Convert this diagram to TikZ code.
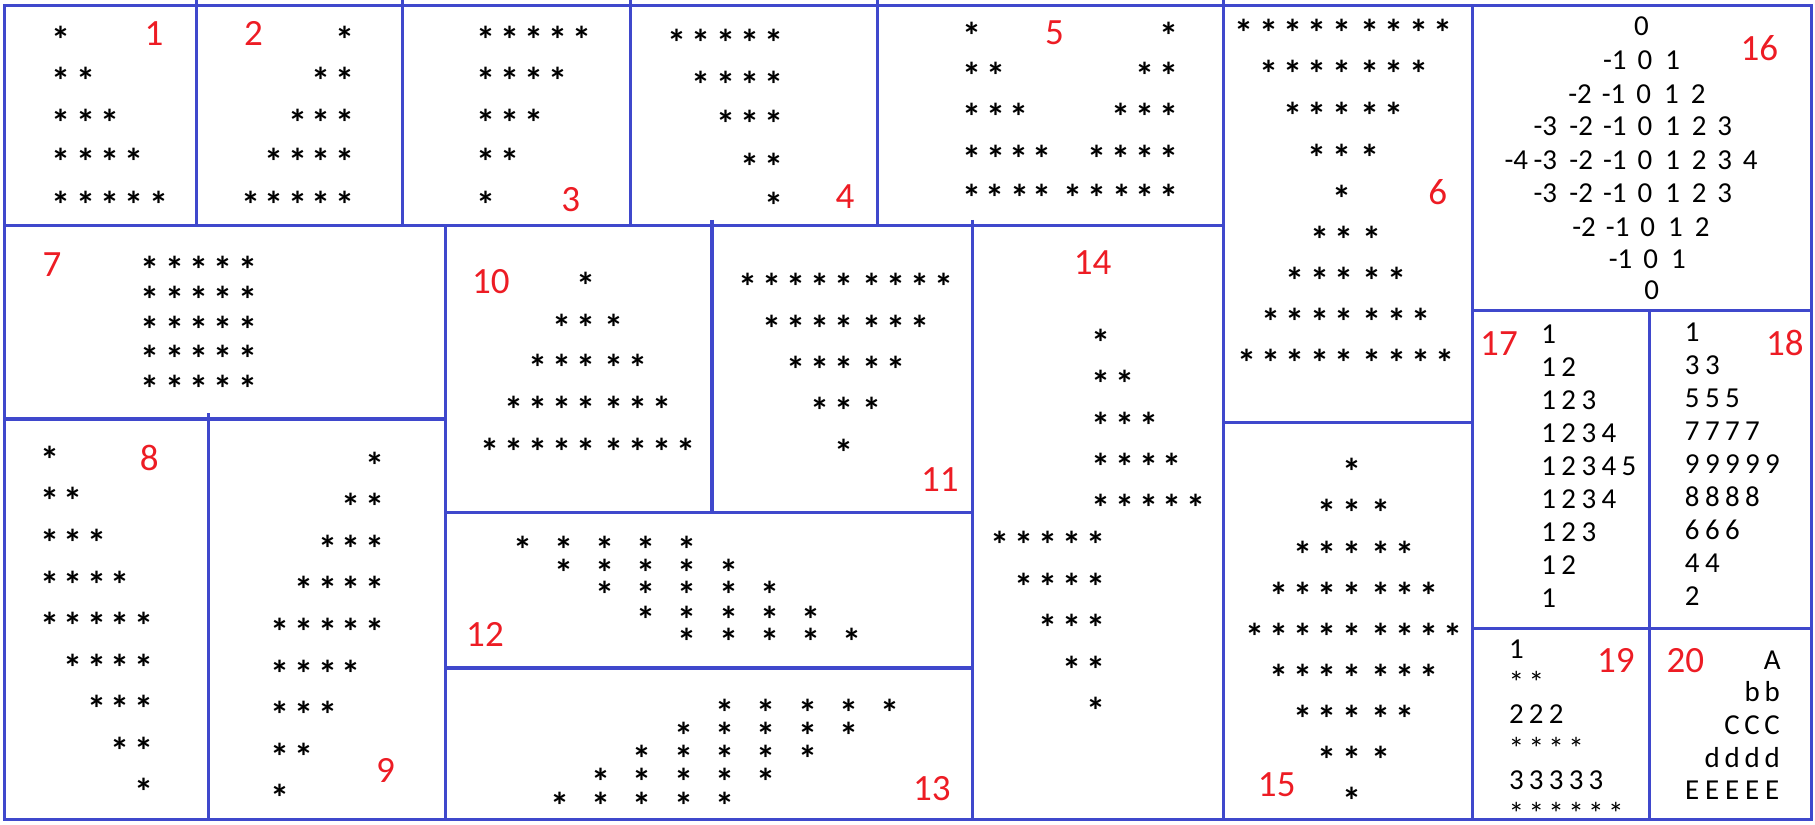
\documentclass[tikz,border=0pt]{standalone}
\usepackage{fontspec}
\setmainfont{Carlito}
\definecolor{gridblue}{RGB}{63,72,204}
\definecolor{tagred}{RGB}{237,28,36}

\begin{document}
\begin{tikzpicture}[x=1pt,y=-1pt,
        frame/.style={gridblue,line width=2.8pt},
        star/.style={font=\fontsize{33}{33}\selectfont\bfseries,inner sep=0pt,anchor=base,yshift=-17pt},
        smallstar/.style={font=\fontsize{27}{27}\selectfont,inner sep=0pt,anchor=base,yshift=-14pt},
        num/.style={font=\fontsize{25}{25}\selectfont,inner sep=0pt,anchor=base,yshift=-8pt},
        tag/.style={font=\fontsize{32}{32}\selectfont,text=tagred,inner sep=0pt,anchor=base,yshift=-10.3pt}] %Patrones de asteriscos
        \useasboundingbox (0,0) rectangle (1568,712);

        \coordinate (TL) at (4,5);
        \coordinate (BR) at (1565,708);

        \coordinate (P) at (4,195);
        \coordinate (Q) at (1057,195);
        \coordinate (R) at (4,362);
        \coordinate (S) at (385,362);
        \coordinate (T) at (385,443);
        \coordinate (U) at (840,443);
        \coordinate (V) at (385,577);
        \coordinate (W) at (840,577);

        \draw[frame] (TL) rectangle (BR);
        \draw[frame] (P) -- (Q);
        \draw[frame] (R) -- (S);
        \draw[frame] (T) -- (U);
        \draw[frame] (V) -- (W);
        \draw[frame] (1057,365) -- (1272,365);
        \draw[frame] (1272,268) -- (1565,268);
        \draw[frame] (1272,543) -- (1565,543);

        \draw[frame] (170,0) -- (170,195);
        \draw[frame] (348,0) -- (348,195);
        \draw[frame] (545,0) -- (545,195);
        \draw[frame] (758,0) -- (758,195);
        \draw[frame] (1057,0) -- (1057,708);
        \draw[frame] (1272,5) -- (1272,708);
        \draw[frame] (1425,268) -- (1425,708);
        \draw[frame] (180,357) -- (180,708);
        \draw[frame] (385,195) -- (385,708);
        \draw[frame] (615,190) -- (615,443);
        \draw[frame] (840,190) -- (840,708);

        % 1 a 4
        \foreach \y [count=\r] in {29,65,101,135,172} {
            \foreach \c in {1,...,\r} {
                \node[star] (s1-\r-\c) at ({53+21*(\c-1)},\y) {*};
                \node[star] (s2-\r-\c) at ({298-20.3*(\c-1)},\y) {*};
            }
        }
        \foreach \y [count=\r] in {29,65,101,135,172} {
            \foreach \c in {\r,...,5} {
                \node[star] (s3-\r-\c) at ({420+20.8*(5-\c)},\y) {*};
            }
        }
        \foreach \y [count=\r] in {32,68,102,139,173} {
            \foreach \c in {\r,...,5} {
                \node[star] (s4-\r-\c) at ({669-21*(5-\c)},\y) {*};
            }
        }

        % 5
        \foreach \y [count=\r] in {26,60,96,132} {
            \foreach \c in {1,...,\r} {
                \node[star] (s5a-\r-\c) at ({840+20.2*(\c-1)},\y) {*};
                \node[star] (s5b-\r-\c) at ({1010-20.7*(\c-1)},\y) {*};
            }
        }
        \foreach \x [count=\c] in {840,860,881,900,927,948,969,989,1010}
            \node[star] (s5-5-\c) at (\x,166) {*};

        % 6, 10, 11 y 15
        \foreach \y/\n/\xc [count=\r, evaluate=\n as \m using {int(-\n)}] in
            {23/4/1159,59/3/1159,95/2/1159,131/1/1159,167/0/1159,202/1/1161,237/2/1161,273/3/1161,308/4/1161} {
            \foreach \k in {\m,...,\n}
                \node[star] (s6-\r-\k) at ({\xc+21*\k+3.5*(\k>0)},\y) {*};
        }
        \foreach \y/\n [count=\r, evaluate=\n as \m using {int(-\n)}] in {242/0,278/1,313/2,349/3,385/4} {
            \foreach \k in {\m,...,\n}
                \node[star] (s10-\r-\k) at ({506+20.6*\k+4*(\k>0)},\y) {*};
        }
        \foreach \y/\n [count=\r, evaluate=\n as \m using {int(-\n)}] in {243/4,279/3,314/2,350/1,386/0} {
            \foreach \k in {\m,...,\n}
                \node[star] (s11-\r-\k) at ({729+20.6*\k+4*(\k>0)},\y) {*};
        }
        \foreach \n [count=\r, evaluate=\n as \m using {int(-\n)}] in {0,1,2,3,4,3,2,1,0} {
            \foreach \k in {\m,...,\n}
                \node[star] (s15-\r-\k) at ({1167.6+20.8*\k+4.5*(\k>0)},{402.7+35.5*(\r-1)}) {*};
        }

        % 7
        \foreach \r in {0,...,4} {
            \foreach \c in {0,...,4}
                \node[star] (s7-\r-\c) at ({130+21*\c},{228+25.7*\r}) {*};
        }

        % 8 y 9
        \foreach \r in {1,...,9} {
            \pgfmathtruncatemacro{\a}{max(0,\r-5)}
            \pgfmathtruncatemacro{\b}{min(4,\r-1)}
            \foreach \c in {\a,...,\b}
                \node[star] (s8-\r-\c) at ({43+20.3*\c},{392+35.9*(\r-1)}) {*};
            \pgfmathtruncatemacro{\a}{max(0,5-\r)}
            \pgfmathtruncatemacro{\b}{min(4,9-\r)}
            \foreach \c in {\a,...,\b}
                \node[star] (s9-\r-\c) at ({242+20.5*\c},{397+35.9*(\r-1)}) {*};
        }

        % 12 y 13
        \foreach \y [count=\r from 0] in {470,490,509,530,549} {
            \foreach \c in {0,...,4}
                \node[star] (s12-\r-\c) at ({451.5+35.6*(\r+\c)},\y) {*};
        }
        \foreach \y [count=\r from 0] in {611,630.5,650.5,670.6,690.8} {
            \foreach \c in {0,...,4}
                \node[star] (s13-\r-\c) at ({483.5+35.7*(4-\r+\c)},\y) {*};
        }

        % 14
        \foreach \r in {1,...,5} {
            \foreach \c in {1,...,\r}
                \node[star] (s14a-\r-\c) at ({950.8+20.7*(\c-1)},{290.7+35.8*(\r-1)}) {*};
        }
        \foreach \r in {1,...,5} {
            \foreach \c in {\r,...,5}
                \node[star] (s14b-\r-\c) at ({947-20.7*(5-\c)},{465.7+35.8*(\r-1)}) {*};
        }

        % 16
        \foreach \y/\n/\dx [count=\r, evaluate=\n as \m using {int(-\n)}] in
            {23/0/-3,52/1/0,81/2/-1,109/3/0,138/4/0,167/3/0,196/2/2.5,224/1/5,251/0/6} {
            \foreach \v in {\m,...,\n} {
                \pgfmathsetmacro{\xx}{{1310,1335,1366,1395,1421,1445,1468,1490,1512}[\v+4]+\dx}
                \node[num] (n16-\r-\v) at (\xx,\y) {\v};
            }
        }

        % 17 y 18
        \foreach \n/\d [count=\r] in {1/1,2/3,3/5,4/7,5/9,4/8,3/6,2/4,1/2} {
            \foreach \c in {1,...,\n} {
                \node[num] (n17-\r-\c) at ({1338+17.3*(\c-1)},{288.7+28.5*(\r-1)}) {\c};
                \node[num] (n18-\r-\c) at ({1462+17.3*(\c-1)},{287+28.5*(\r-1)}) {\d};
            }
        }

        % 19 y 20
        \foreach \y/\n [count=\r] in {560.5/1,617/3,674/5} {
            \foreach \c in {1,...,\n}
                \node[num] (n19-\r-\c) at ({1310+17.2*(\c-1)},\y) {\r};
        }
        \foreach \y/\n [count=\r] in {585/2,642/4,698.5/6} {
            \foreach \c in {1,...,\n}
                \node[smallstar] (s19-\r-\c) at ({1310+17.2*(\c-1)},\y) {*};
        }
        \foreach \y/\n/\t [count=\r] in {570/1/A,598/2/b,626.6/3/C,655/4/d,683/5/E} {
            \foreach \c in {1,...,\n}
                \node[num] (n20-\r-\c) at ({1531-17.3*(\c-1)},\y) {\t};
        }

        \node[tag] (t1) at (133,29) {1};
        \node[tag] (t2) at (219,29) {2};
        \node[tag] (t3) at (493,172) {3};
        \node[tag] (t4) at (730,170) {4};
        \node[tag] (t5) at (911,28) {5};
        \node[tag] (t6) at (1242,166) {6};
        \node[tag] (t7) at (45,229) {7};
        \node[tag] (t8) at (129,396) {8};
        \node[tag] (t9) at (333,666) {9};
        \node[tag] (t10) at (424,243) {10};
        \node[tag] (t11) at (812,414) {11};
        \node[tag] (t12) at (419,548) {12};
        \node[tag] (t13) at (805,681) {13};
        \node[tag] (t14) at (944,227) {14};
        \node[tag] (t15) at (1103,678) {15};
        \node[tag] (t16) at (1520,42) {16};
        \node[tag] (t17) at (1295,297) {17};
        \node[tag] (t18) at (1542,297) {18};
        \node[tag] (t19) at (1396,571) {19};
        \node[tag] (t20) at (1456,571) {20};
\end{tikzpicture}
\end{document}
